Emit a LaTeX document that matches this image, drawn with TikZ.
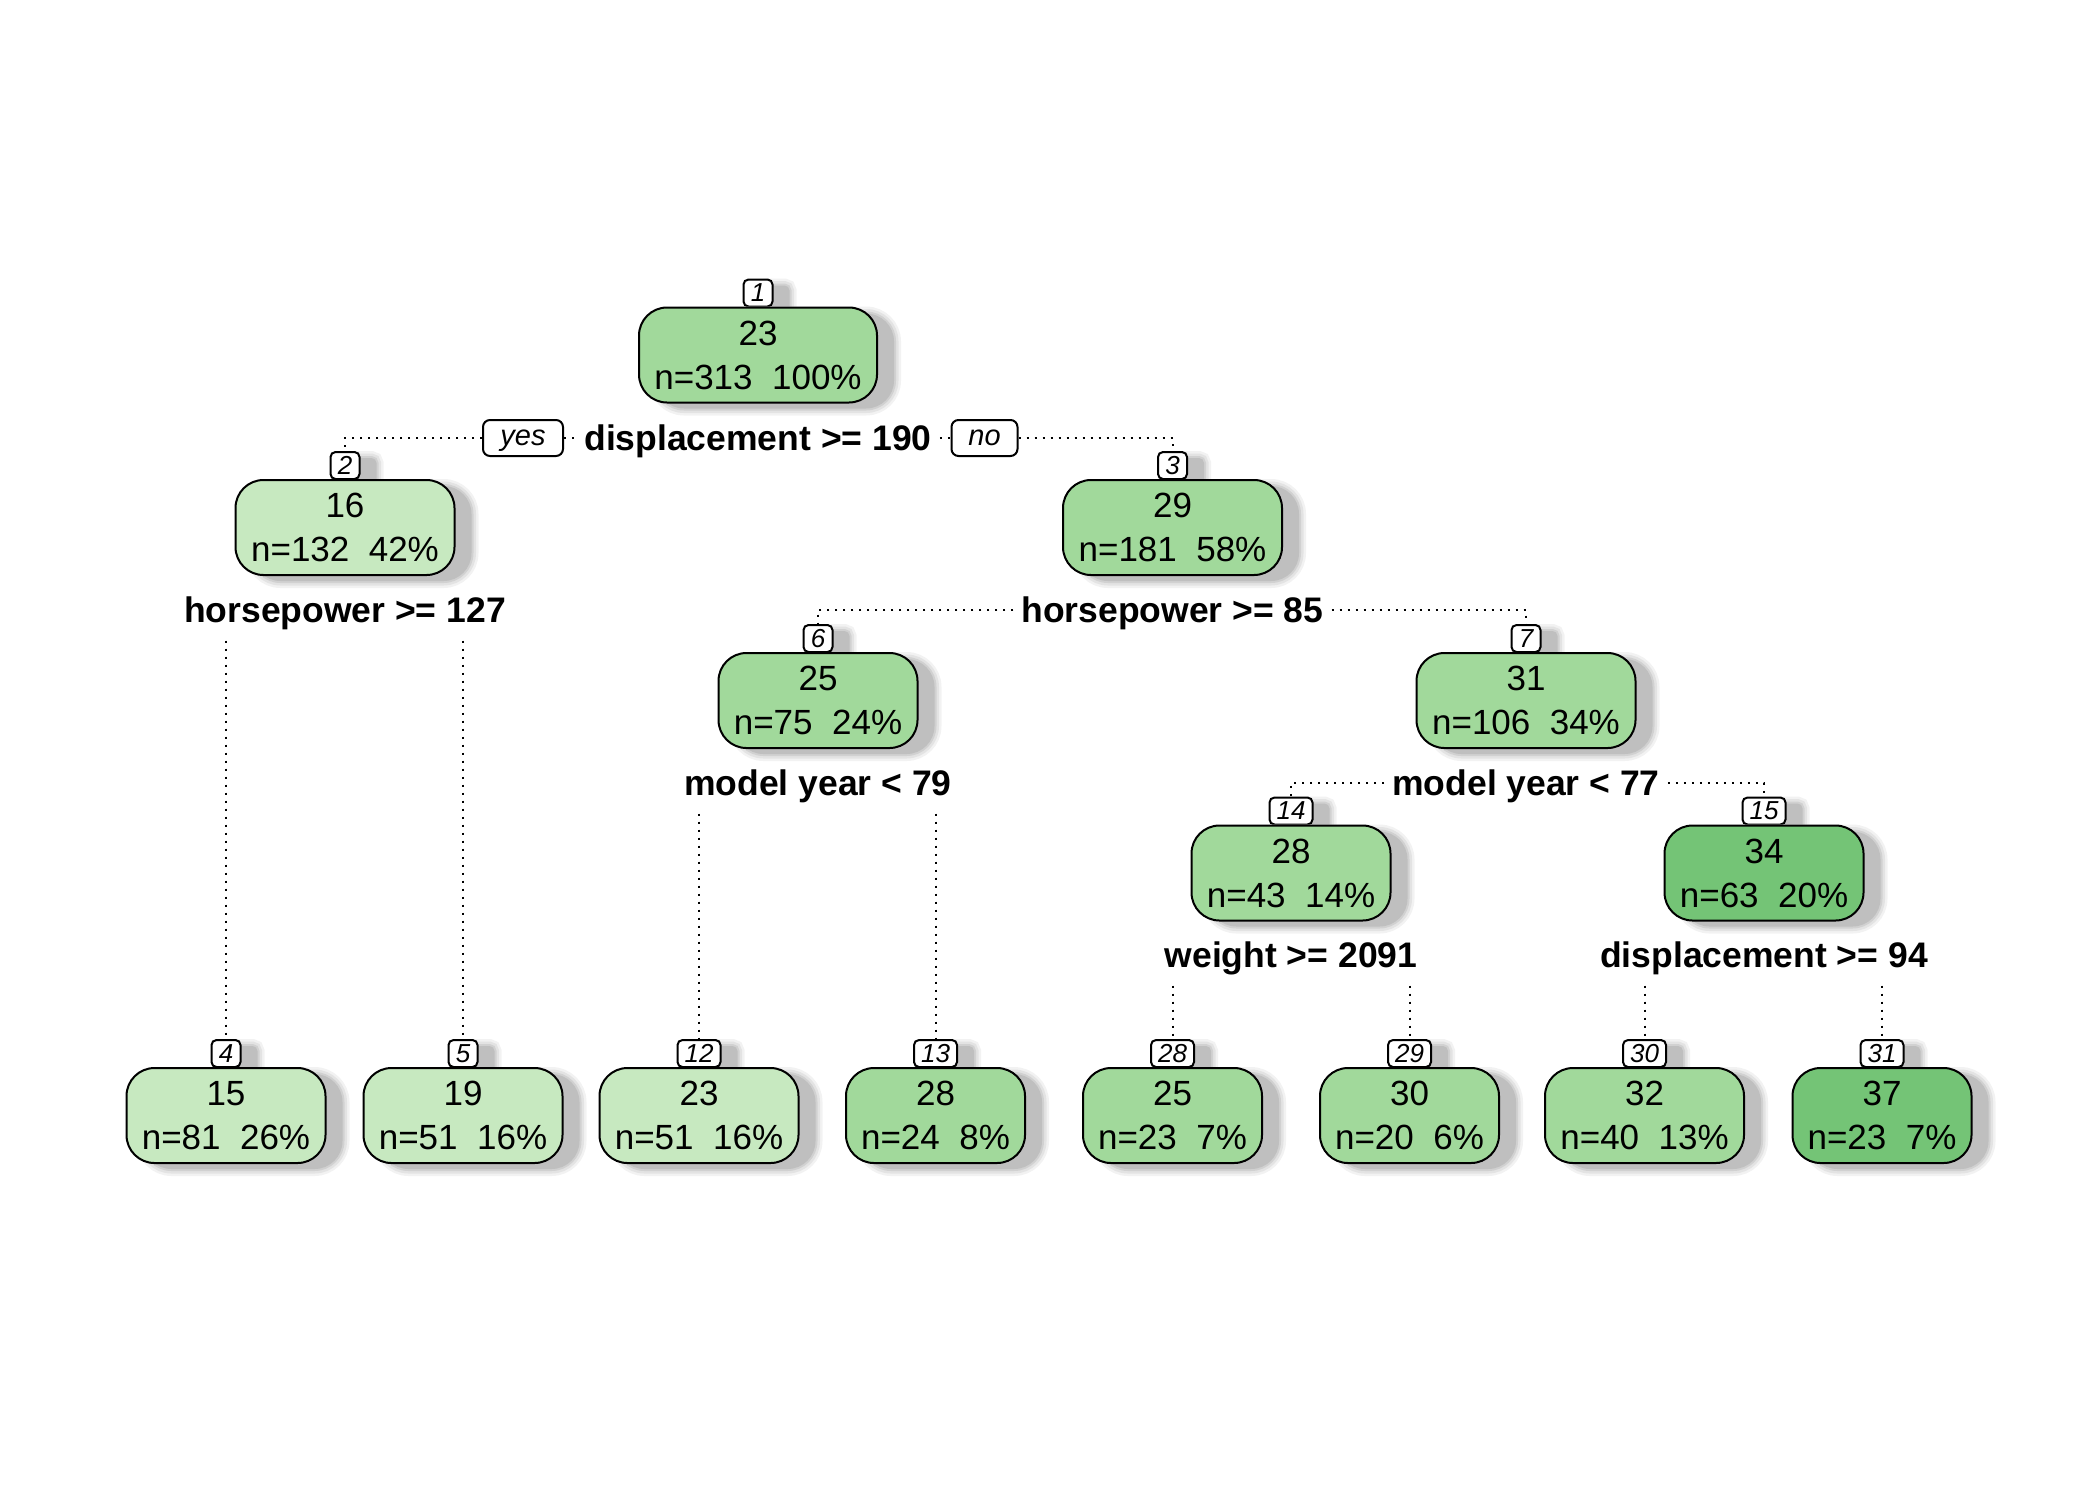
\documentclass[tikz,border=0pt]{standalone}
\usepackage{fontspec}
\setmainfont{Liberation Sans}
\pgfdeclarelayer{background}
\pgfsetlayers{background,main}
\definecolor{gLight}{HTML}{C7E9C0}
\definecolor{gMid}{HTML}{A1D99B}
\definecolor{gDark}{HTML}{74C476}
\tikzset{
  % soft grey drop shadow, built from a few stacked layers
  softshadow/.style={
    preaction={draw=black!5, fill=black!5, line width=14pt,
      transform canvas={xshift=17pt,yshift=-6pt}},
    preaction={draw=black!11, fill=black!11, line width=9pt,
      transform canvas={xshift=17pt,yshift=-6pt}},
    preaction={draw=black!18, fill=black!18, line width=4pt,
      transform canvas={xshift=17pt,yshift=-6pt}},
    preaction={draw=none, fill=black!25,
      transform canvas={xshift=17pt,yshift=-6pt}}},
  treebox/.style={draw, line width=2pt, rounded corners=28pt,
    minimum height=95pt, inner sep=0pt, align=center,
    font=\fontsize{35}{44}\selectfont, softshadow},
  idbox/.style={draw, fill=white, line width=2pt, rounded corners=5pt,
    minimum height=27pt, inner sep=0pt, anchor=south,
    font=\itshape\fontsize{26}{26}\selectfont, softshadow},
  splitlab/.style={font=\bfseries\fontsize{35.5}{35.5}\selectfont,
    text height=25pt, text depth=0pt, inner xsep=8pt, inner ysep=18pt},
  yesno/.style={draw, fill=white, line width=2pt, rounded corners=7pt,
    inner sep=0pt, minimum height=36pt, text height=15pt, text depth=0pt,
    font=\itshape\fontsize{29}{29}\selectfont},
  conn/.style={line width=2pt, dash pattern=on 2pt off 6pt}
}
\begin{document}
\begin{tikzpicture}[x=1pt,y=-1pt]
\useasboundingbox (0,0) rectangle (2100,1500);

% node numbers (drawn first so the boxes sit over their shadows)
\node[idbox, minimum width=29pt] (l1)  at (758,307.5)   {1};
\node[idbox, minimum width=29pt] (l2)  at (345,480)     {2};
\node[idbox, minimum width=29pt] (l3)  at (1172.5,480)  {3};
\node[idbox, minimum width=29pt] (l6)  at (818,653)     {6};
\node[idbox, minimum width=29pt] (l7)  at (1526,653)    {7};
\node[idbox, minimum width=43pt] (l14) at (1291,825.5)  {14};
\node[idbox, minimum width=43pt] (l15) at (1764,825.5)  {15};
\node[idbox, minimum width=29pt] (l4)  at (226,1068)    {4};
\node[idbox, minimum width=29pt] (l5)  at (463,1068)    {5};
\node[idbox, minimum width=43pt] (l12) at (699,1068)    {12};
\node[idbox, minimum width=43pt] (l13) at (935.5,1068)  {13};
\node[idbox, minimum width=43pt] (l28) at (1172.5,1068) {28};
\node[idbox, minimum width=43pt] (l29) at (1409.5,1068) {29};
\node[idbox, minimum width=43pt] (l30) at (1644.5,1068) {30};
\node[idbox, minimum width=43pt] (l31) at (1882,1068)   {31};

% tree nodes
\node[treebox, fill=gMid,   minimum width=238pt] (n1)  at (758,355)      {23\\n=313\ \ 100\%};
\node[treebox, fill=gLight, minimum width=219pt] (n2)  at (345,527.5)    {16\\n=132\ \ 42\%};
\node[treebox, fill=gMid,   minimum width=219pt] (n3)  at (1172.5,527.5) {29\\n=181\ \ 58\%};
\node[treebox, fill=gMid,   minimum width=199pt] (n6)  at (818,700.5)    {25\\n=75\ \ 24\%};
\node[treebox, fill=gMid,   minimum width=219pt] (n7)  at (1526,700.5)   {31\\n=106\ \ 34\%};
\node[treebox, fill=gMid,   minimum width=199pt] (n14) at (1291,873)     {28\\n=43\ \ 14\%};
\node[treebox, fill=gDark,  minimum width=199pt] (n15) at (1764,873)     {34\\n=63\ \ 20\%};
\node[treebox, fill=gLight, minimum width=199pt] (n4)  at (226,1115.5)   {15\\n=81\ \ 26\%};
\node[treebox, fill=gLight, minimum width=199pt] (n5)  at (463,1115.5)   {19\\n=51\ \ 16\%};
\node[treebox, fill=gLight, minimum width=199pt] (n12) at (699,1115.5)   {23\\n=51\ \ 16\%};
\node[treebox, fill=gMid,   minimum width=179pt] (n13) at (935.5,1115.5) {28\\n=24\ \ 8\%};
\node[treebox, fill=gMid,   minimum width=179pt] (n28) at (1172.5,1115.5){25\\n=23\ \ 7\%};
\node[treebox, fill=gMid,   minimum width=179pt] (n29) at (1409.5,1115.5){30\\n=20\ \ 6\%};
\node[treebox, fill=gMid,   minimum width=199pt] (n30) at (1644.5,1115.5){32\\n=40\ \ 13\%};
\node[treebox, fill=gDark,  minimum width=179pt] (n31) at (1882,1115.5)  {37\\n=23\ \ 7\%};

% split rules
\node[splitlab] (s1)  at (758,438)    {displacement >= 190};
\node[splitlab] (s2)  at (345,610)    {horsepower >= 127};
\node[splitlab] (s3)  at (1172.5,610) {horsepower >= 85};
\node[splitlab] (s6)  at (818,783)    {model year < 79};
\node[splitlab] (s7)  at (1526,783)   {model year < 77};
\node[splitlab] (s14) at (1291,955)   {weight >= 2091};
\node[splitlab] (s15) at (1764,955)   {displacement >= 94};

\node[yesno, minimum width=80pt] (yes) at (523,438)   {yes};
\node[yesno, minimum width=66pt] (no)  at (984.5,438) {no};

% dotted branches
\begin{pgfonlayer}{background}
\draw[conn] (yes.west) -| (l2.north);
\draw[conn] (yes.east) -- (s1.west);
\draw[conn] (s1.east) -- (no.west);
\draw[conn] (no.east) -| (l3.north);
\draw[conn] (s2.south -| l4.north) -- (l4.north);
\draw[conn] (s2.south -| l5.north) -- (l5.north);
\draw[conn] (s3.west) -| (l6.north);
\draw[conn] (s3.east) -| (l7.north);
\draw[conn] (s6.south -| l12.north) -- (l12.north);
\draw[conn] (s6.south -| l13.north) -- (l13.north);
\draw[conn] (s7.west) -| (l14.north);
\draw[conn] (s7.east) -| (l15.north);
\draw[conn] (s14.south -| l28.north) -- (l28.north);
\draw[conn] (s14.south -| l29.north) -- (l29.north);
\draw[conn] (s15.south -| l30.north) -- (l30.north);
\draw[conn] (s15.south -| l31.north) -- (l31.north);
\end{pgfonlayer}
\end{tikzpicture}
\end{document}
